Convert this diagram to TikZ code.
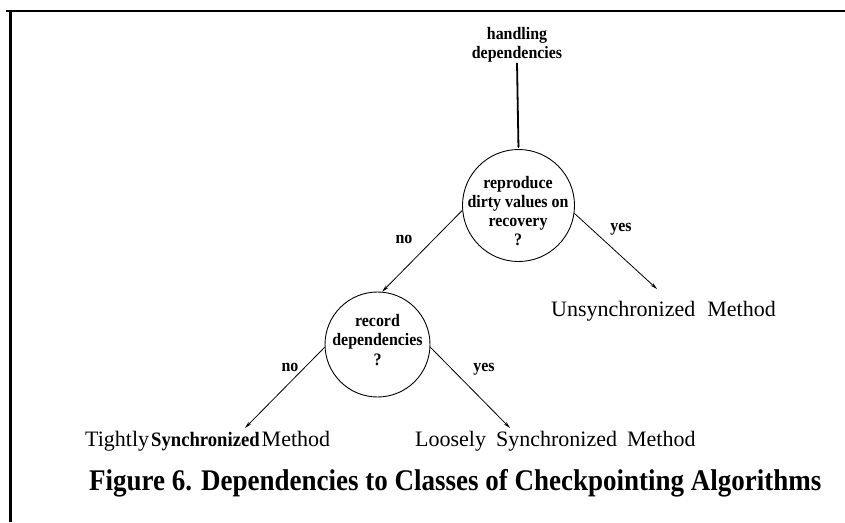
\documentclass[tikz,border=0pt]{standalone}
\usepackage{fontspec}
\setmainfont{Liberation Serif}
% slightly condensed Times-like faces for the bold labels and the caption
\newfontfamily\narrowface[FakeStretch=0.91]{Liberation Serif}
\newfontfamily\capface[FakeStretch=0.9]{Liberation Serif}
\usetikzlibrary{arrows.meta}
\begin{document}
\begin{tikzpicture}[x=1pt,y=-1pt,
  lab/.style={font=\narrowface\fontsize{17.5}{19.3}\selectfont\bfseries, inner sep=0pt, align=center},
  decision/.style={circle, draw, line width=0.9pt, inner sep=0pt},
  outcome/.style={font=\fontsize{22}{26}\selectfont, inner sep=0pt, anchor=west},
  branch/.style={line width=0.8pt, -{Stealth[length=7pt,width=3.5pt]}},
  stem/.style={line width=1.8pt, -{Stealth[length=2.5pt,width=2.5pt]}, shorten >=1pt},
  frame/.style={line width=2.7pt},
]
\useasboundingbox (0,0) rectangle (845,522);
% open frame: top rule and left rule
\draw[frame] (6,11) -- (845,11);
\draw[frame] (10.5,11) -- (10.5,522);

% root question
\node[lab] (root) at (517,45) {handling\\dependencies};

% first decision
\node[decision, minimum size=112pt] (c1) at (518.5,205.5) {};
\node[lab] (c1t) at (518,211) {reproduce\\dirty values on\\recovery\\?};

% second decision
\node[decision, minimum size=105pt] (c2) at (377.5,344.5) {};
\node[lab] (c2t) at (377.5,340) {record\\dependencies\\?};

% outcomes
\node[outcome] (u) at (551,311) {Unsynchronized\hspace{12pt}Method};
\node[outcome] (t) at (85,441) {Tightly\kern2pt{\narrowface\bfseries\fontsize{20.5}{20.5}\selectfont Synchronized}\kern2pt Method};
\node[outcome] (l) at (415,441) {Loosely\hspace{10pt}Synchronized\hspace{10pt}Method};

% arrow ends just above the outcome texts
\coordinate (ue) at (657,289);
\coordinate (te) at (245,428);
\coordinate (le) at (510,428);

% connectors
\draw[stem] (root.south) -- (c1.north);
\draw[branch] (c1.185) -- (c2.85);
\draw[branch] (c1.-8) -- (ue);
\draw[branch] (c2.183) -- (te);
\draw[branch] (c2.-3) -- (le);

% branch labels
\node[lab] (n1) at (404,239) {no};
\node[lab] (y1) at (621,229) {yes};
\node[lab] (n2) at (290,367) {no};
\node[lab] (y2) at (484,369) {yes};

% caption
\node[anchor=west, inner sep=0pt, font=\capface\fontsize{30}{30}\selectfont\bfseries] (cap) at (89,483)
  {Figure 6. Dependencies to Classes of Checkpointing Algorithms};
\end{tikzpicture}
\end{document}
